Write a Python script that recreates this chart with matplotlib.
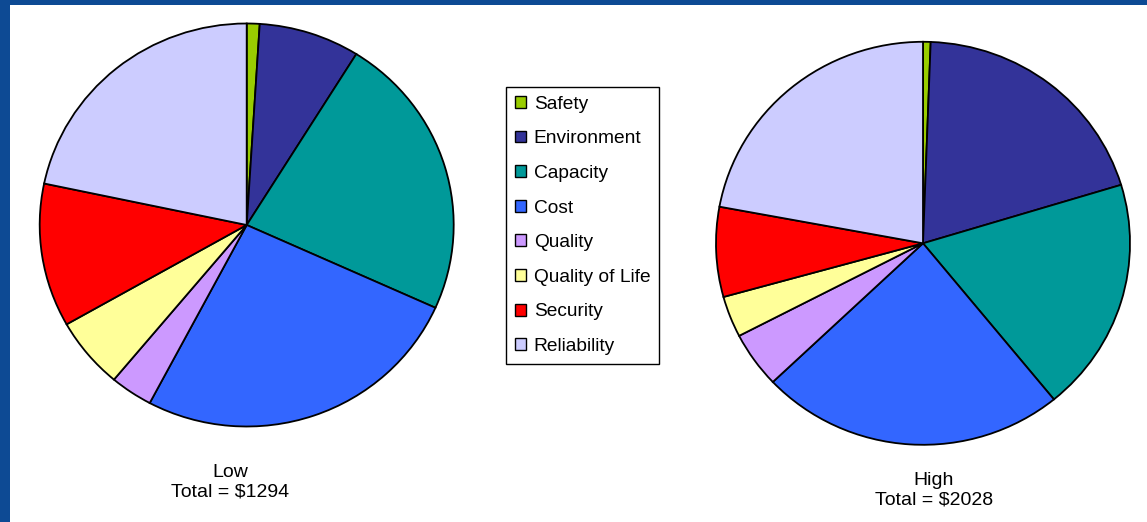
import matplotlib
matplotlib.use("Agg")
import matplotlib.pyplot as plt
from matplotlib.patches import Rectangle, Patch

categories = ["Safety", "Environment", "Capacity", "Cost", "Quality",
              "Quality of Life", "Security", "Reliability"]
low_values = [13, 102, 296, 337, 43, 74, 149, 281]
high_values = [12, 400, 381, 483, 91, 67, 146, 448]
low_label = "Low\nTotal = $1294"
high_label = "High\nTotal = $2028"
colors = ["#99cc00", "#333399", "#009999", "#3366ff", "#cc99ff",
          "#ffff99", "#ff0000", "#ccccff"]

W, H = 1147, 522
fig = plt.figure(figsize=(W / 100, H / 100), dpi=100)
fig.patch.set_facecolor("#0d4a94")
fig.patches.append(Rectangle((10 / W, 0), 1 - 10 / W, 1 - 5 / H,
                             transform=fig.transFigure, facecolor="white",
                             edgecolor="none", zorder=-5))

font = ["Liberation Sans Narrow", "Liberation Sans", "DejaVu Sans"]
legend_font = ["Liberation Sans", "DejaVu Sans"]


def pie_axes(cx, cy, rx, ry):
    # cx, cy in pixels from top-left
    ax = fig.add_axes([(cx - rx) / W, (H - cy - ry) / H, 2 * rx / W, 2 * ry / H])
    ax.set_zorder(2)
    return ax


def draw(ax, values):
    ax.pie(values, colors=colors, startangle=90, counterclock=False,
           wedgeprops=dict(edgecolor="black", linewidth=1.3))
    ax.set_aspect("auto")
    ax.set_xlim(-1.0, 1.0)
    ax.set_ylim(-1.0, 1.0)
    ax.axis("off")


ax1 = pie_axes(246.7, 225, 207, 201.5)
draw(ax1, low_values)
ax2 = pie_axes(923, 243.3, 207, 201.5)
draw(ax2, high_values)

handles = [Patch(facecolor=c, edgecolor="black", linewidth=1.0) for c in colors]
leg = fig.legend(handles, categories, loc="upper left",
                 bbox_to_anchor=(506 / W, 1 - 87 / H),
                 prop=dict(family=legend_font, size=13.8),
                 frameon=True, fancybox=False, shadow=False,
                 handlelength=0.58, handleheight=0.58, handletextpad=0.42,
                 labelspacing=0.92, borderpad=0.45, borderaxespad=0.0)
leg.get_frame().set_edgecolor("black")
leg.get_frame().set_linewidth(1.0)
leg.get_frame().set_alpha(1.0)
leg.set_zorder(3)

fig.text(230 / W, 1 - 482 / H, low_label, ha="center", va="center",
         fontsize=14, family=font, linespacing=1.2)
fig.text(934 / W, 1 - 490 / H, high_label, ha="center", va="center",
         fontsize=14, family=font, linespacing=1.2)

fig.savefig("out.png", dpi=100, facecolor=fig.get_facecolor())
